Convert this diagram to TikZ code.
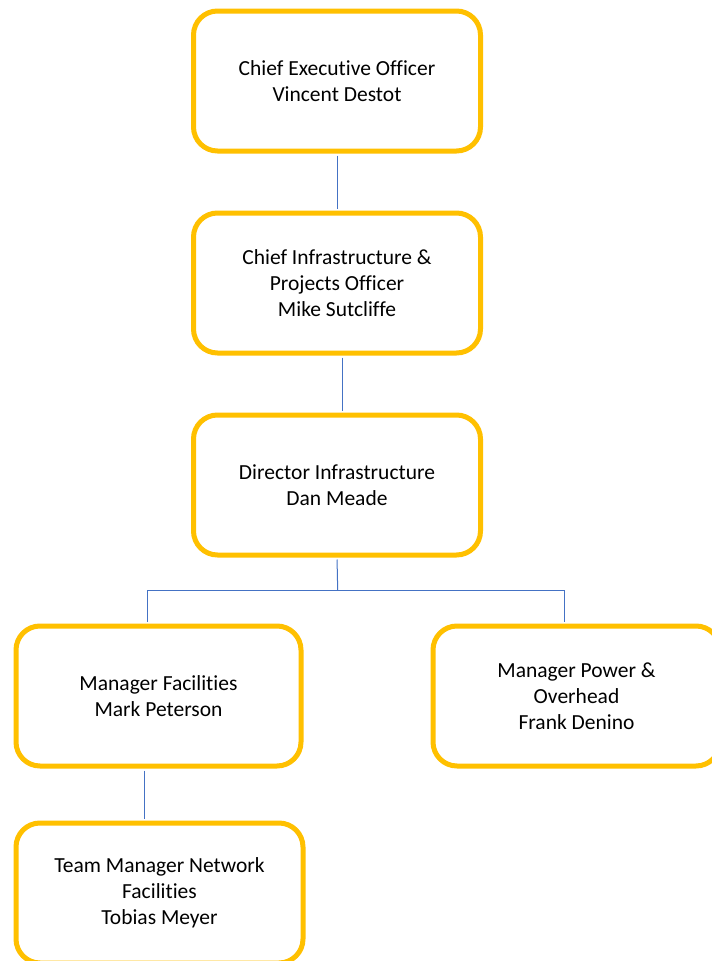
\documentclass[tikz,border=0pt]{standalone}
\usepackage{fontspec}
\setmainfont{Carlito}[Ligatures=NoCommon]
\definecolor{gold}{HTML}{FFC000}
\definecolor{linkblue}{HTML}{4472C4}
\begin{document}
\begin{tikzpicture}[x=1pt,y=-1pt,
  box/.style={draw=gold, line width=5pt, rounded corners=24pt, fill=white,
    minimum width=287pt, minimum height=140pt, align=center, inner sep=0pt,
    font=\fontsize{21.5}{26}\selectfont},
  link/.style={draw=linkblue, line width=1pt, shorten <=2pt, shorten >=2pt}]
\useasboundingbox[fill=white] (0,0) rectangle (712,961);
\node[box] (ceo) at (337,81) {Chief Executive Officer\\Vincent Destot};
\node[box] (cip) at (337,283) {Chief Infrastructure \&\\Projects Officer\\Mike Sutcliffe};
\node[box] (dir) at (337,485) {Director Infrastructure\\Dan Meade};
\node[box, minimum width=285pt] (fac) at (158.5,696) {Manager Facilities\\Mark Peterson};
\node[box, minimum width=287pt] (pow) at (576.5,696) {Manager Power \&\\Overhead\\Frank Denino};
\node[box, minimum width=287pt] (team) at (159.5,893) {Team Manager Network\\Facilities\\Tobias Meyer};
\coordinate (split) at (337.7,590);
\draw[link] (ceo.south) -- (cip.north);
\draw[link] ([xshift=5pt]cip.south) -- ([xshift=5pt]dir.north);
\draw[link, shorten >=0pt] (dir.south) -- (split);
\draw[link, shorten <=0pt] (split) -| (fac.north -| 147.7,0);
\draw[link, shorten <=0pt] (split) -| (pow.north -| 564.5,0);
\draw[link] (fac.south -| 144,0) -- (team.north -| 144,0);
\end{tikzpicture}
\end{document}
